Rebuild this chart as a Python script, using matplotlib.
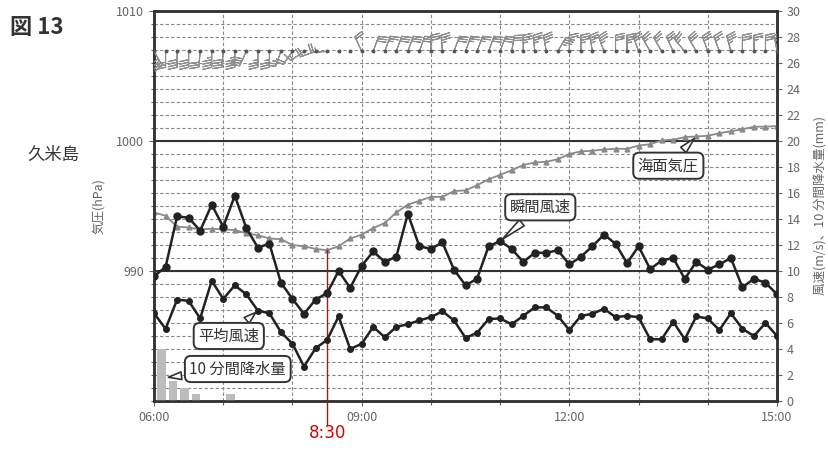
import numpy as np
import matplotlib
matplotlib.use("Agg")
import matplotlib.pyplot as plt

plt.rcParams['font.family'] = ['Noto Sans CJK JP', 'DejaVu Sans']

# 10-minute values, 06:00 - 15:00 (久米島)
pressure = [994.5, 994.25, 993.4, 993.35, 993.2, 993.25, 993.2, 993.15, 992.9, 992.75,
            992.5, 992.45, 992.0, 991.9, 991.7, 991.6, 991.9, 992.5, 992.8, 993.3,
            993.7, 994.5, 995.1, 995.4, 995.7, 995.7, 996.15, 996.2, 996.6, 997.05,
            997.4, 997.75, 998.15, 998.35, 998.4, 998.6, 999.0, 999.2, 999.25, 999.35,
            999.4, 999.4, 999.65, 999.75, 1000.05, 1000.1, 1000.3, 1000.35, 1000.4, 1000.6,
            1000.75, 1000.9, 1001.1, 1001.1, 1001.15]
gust = [9.6, 10.3, 14.2, 14.1, 13.1, 15.1, 13.4, 15.8, 13.3, 11.8,
        12.1, 9.1, 7.85, 6.7, 7.8, 8.3, 10.0, 8.7, 10.4, 11.5,
        10.7, 11.1, 14.4, 11.9, 11.7, 12.2, 10.1, 8.9, 9.4, 11.9,
        12.3, 11.7, 10.7, 11.4, 11.4, 11.6, 10.5, 11.1, 11.9, 12.8,
        12.1, 10.6, 11.9, 10.15, 10.8, 11.0, 9.4, 10.7, 10.1, 10.5,
        11.0, 8.75, 9.4, 9.1, 8.2]
mean_wind = [6.75, 5.55, 7.8, 7.7, 6.35, 9.25, 7.85, 8.9, 8.2, 6.95,
             6.75, 5.3, 4.4, 2.65, 4.05, 4.7, 6.5, 4.0, 4.4, 5.7,
             4.9, 5.7, 5.9, 6.2, 6.45, 6.9, 6.2, 4.85, 5.25, 6.3,
             6.35, 5.9, 6.55, 7.2, 7.2, 6.55, 5.45, 6.55, 6.7, 7.1,
             6.45, 6.55, 6.45, 4.75, 4.75, 6.1, 4.75, 6.5, 6.35, 5.45,
             6.75, 5.55, 5.0, 6.0, 5.0]
# wind direction (degrees, from); None = calm
wind_dir = [150, 180, 180, 180, 185, 180, 185, 180, 205, 180,
            180, 200, 215, 235, 250, 265, None, None, 335, 20,
            20, 20, 20, 20, 0, 355, 20, 20, 20, 20,
            20, 10, 0, 355, 350, 30, 0, 0, 350, 340,
            0, 0, 340, 330, 330, 335, 320, 330, 340, 340,
            345, 0, 0, 0, 350]
rain_end = [6 + 10/60, 6 + 20/60, 6 + 30/60, 6 + 40/60, 7 + 10/60]
rain = [4.0, 1.5, 1.0, 0.5, 0.5]

hour_ticks = [6, 9, 12, 15]
hour_labels = ['06:00', '09:00', '12:00', '15:00']
mark_time = 8.5
mark_label = '8:30'

t = 6 + np.arange(len(pressure)) / 6.0

fig = plt.figure(figsize=(8.29, 4.59), dpi=100)
ax = fig.add_axes([0.1858, 0.1264, 0.7515, 0.8496])
ax2 = ax.twinx()

grid_c = '#888888'
txt_c = '#666666'

# left axis: pressure
ax.set_xlim(6, 15)
ax.set_ylim(980, 1010)
ax.set_yticks([990, 1000, 1010])
ax.set_yticks(np.arange(980, 1011, 1), minor=True)
ax.set_xticks(hour_ticks)
ax.set_xticklabels(hour_labels)
ax.set_xticks(np.arange(6, 16, 1), minor=True)
ax.grid(which='both', axis='both', ls=(0, (3, 2)), color=grid_c, lw=0.8)
ax.axhline(990, color='#333333', lw=1.5)
ax.axhline(1000, color='#333333', lw=1.5)
ax.tick_params(axis='both', which='both', colors=txt_c, labelsize=9, width=0.8)
ax.tick_params(axis='y', which='minor', length=2.5)
ax.tick_params(axis='x', which='minor', length=3)
ax.plot(t, pressure, color='#8a8a8a', lw=1.3, marker='^', ms=3.5, zorder=3)
ax.set_ylabel('気圧(hPa)', color=txt_c, fontsize=9, labelpad=8)

# right axis: wind, rain
ax2.set_ylim(0, 30)
ax2.set_yticks(np.arange(0, 31, 2))
ax2.tick_params(axis='y', colors=txt_c, labelsize=9, width=0.8)
ax2.set_ylabel('風速(m/s)、10 分間降水量(mm)', color=txt_c, fontsize=9, labelpad=10)

for a in (ax, ax2):
    for s in a.spines.values():
        s.set_color('#333333')
        s.set_linewidth(1.8)

ax2.bar(np.array(rain_end) - 3.5/60, rain, width=7.5/60, color='#bdbdbd', zorder=2)
ax2.plot(t, gust, color='#222222', lw=1.8, marker='o', ms=5, zorder=4)
ax2.plot(t, mean_wind, color='#222222', lw=1.8, marker='o', ms=4, zorder=4)

# wind barbs
barb_level = 26.9
spd = np.array([0 if d is None else s for s, d in zip(mean_wind, wind_dir)])
dirs = np.radians([0 if d is None else d for d in wind_dir])
u = -spd * np.sin(dirs)
v = -spd * np.cos(dirs)
ax2.barbs(t, np.full(len(t), barb_level), u, v, length=4.8, color='#909090',
          linewidth=0.8, barb_increments=dict(half=1, full=2, flag=50),
          sizes=dict(emptybarb=0.03, spacing=0.16, height=0.55), zorder=3)
ax2.plot(t, np.full(len(t), barb_level), 'o', ms=1.8, color='#555555', zorder=3)

# 8:30 marker
p_mark = pressure[int(round((mark_time - 6) * 6))]
ax.plot([mark_time, mark_time], [978.15, p_mark], color='#e00000', lw=1.0,
        clip_on=False, zorder=5)
ax.text(mark_time, 977.5, mark_label, color='#e00000', fontsize=12,
        ha='center', va='center', family=['DejaVu Sans'])

# callouts
box = dict(boxstyle='round,pad=0.3,rounding_size=0.4', fc='white', ec='#333333', lw=1.4)
arrow = dict(arrowstyle='wedge,tail_width=0.5,shrink_factor=0.5', fc='white',
             ec='#333333', lw=1.2)
ax.annotate('海面気圧', xy=(t[47], pressure[47]), xytext=(13.43, 998.1),
            fontsize=11, color='#333333', ha='center', va='center',
            bbox=box, arrowprops=arrow, zorder=6)
ax2.annotate('瞬間風速', xy=(t[30], gust[30]), xytext=(11.58, 14.9),
             fontsize=11, color='#333333', ha='center', va='center',
             bbox=box, arrowprops=arrow, zorder=6)
ax2.annotate('平均風速', xy=(t[9], mean_wind[9]), xytext=(7.08, 5.0),
             fontsize=11, color='#333333', ha='center', va='center',
             bbox=box, arrowprops=arrow, zorder=6)
ax2.annotate('10 分間降水量', xy=(rain_end[0], rain[0] * 0.45), xytext=(7.21, 2.46),
             fontsize=11, color='#333333', ha='center', va='center',
             bbox=box, arrowprops=arrow, zorder=6)

fig.text(10/829, 1 - 27/459, '図 13', fontsize=16, weight='bold', color='#333333',
         ha='left', va='center')
fig.text(53/829, 1 - 155/459, '久米島', fontsize=12.5, color='#333333',
         ha='center', va='center')

fig.savefig('out.png', dpi=100)
